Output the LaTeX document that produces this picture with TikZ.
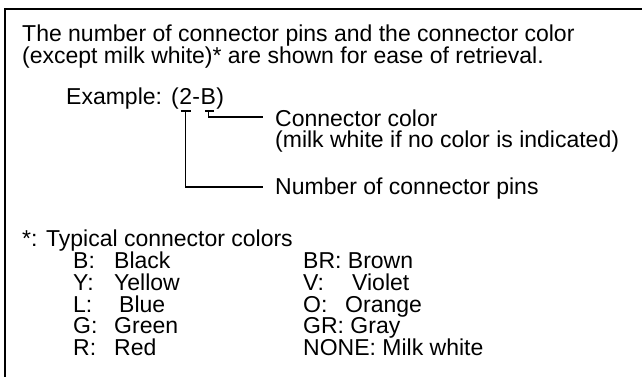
\documentclass[tikz,border=0pt]{standalone}
\usepackage{fontspec}
\setmainfont{Liberation Sans}
\usetikzlibrary{positioning}
\tikzset{
    txt/.style={anchor=base west, inner sep=0pt, text height=15pt, text depth=3pt,
                font=\fontsize{23}{22}\selectfont},
    frame/.style={line width=2pt},
    leader/.style={line width=1.3pt},
}

\begin{document}
\begin{tikzpicture}[x=1pt, y=-1pt]
    \useasboundingbox (0,0) rectangle (642,377);

    \draw[frame] (4.5,377) -- (4.5,9.5) -- (642,9.5);

    \node[txt] (intro1) at (22,42) {The number of connector pins and the connector color};
    \node[txt] (intro2) at (22,64) {(except milk white)* are shown for ease of retrieval.};

    \node[txt] (example) at (66,105) {Example:};
    \node[txt] (exopen) at (171,105) {(};
    \node[txt, right=0pt of exopen.base east, anchor=base west] (expins) {2};
    \node[txt, right=0pt of expins.base east, anchor=base west] (exdash) {-};
    \node[txt, right=0pt of exdash.base east, anchor=base west] (excolor) {B};
    \node[txt, right=0pt of excolor.base east, anchor=base west] (exclose) {)};

    \node[txt] (colortext) at (275,126) {Connector color};
    \node[txt] (colornote) at (275,147) {(milk white if no color is indicated)};
    \node[txt] (pinstext) at (275,194) {Number of connector pins};

    % ticks under the example
    \coordinate (tickpins) at (expins.base |- 0,111);
    \coordinate (tickcolor) at (excolor.base |- 0,111);
    \draw[leader] ([xshift=-5pt]tickpins) -- ([xshift=5pt]tickpins);
    \draw[leader] ([xshift=-3pt]tickcolor) -- ([xshift=6pt]tickcolor);
    \draw[leader] (tickpins) |- ([xshift=-12pt]pinstext.west |- 0,187);
    \draw[leader] (tickcolor) |- ([xshift=-12pt]colortext.west |- 0,117);

    \node[txt] (typical) at (22,246) {*: Typical connector colors};

    \node[txt] (kb) at (73,268) {B:};   \node[txt] (vb) at (114,268) {Black};
    \node[txt] (ky) at (73,290) {Y:};   \node[txt] (vy) at (114,290) {Yellow};
    \node[txt] (kl) at (73,312) {L:};   \node[txt] (vl) at (119,312) {Blue};
    \node[txt] (kg) at (73,333) {G:};   \node[txt] (vg) at (114,333) {Green};
    \node[txt] (kr) at (73,355) {R:};   \node[txt] (vr) at (114,355) {Red};

    \node[txt] (kbr) at (303,268) {BR: Brown};
    \node[txt] (kv) at (303,290) {V:};   \node[txt] (vv) at (352,290) {Violet};
    \node[txt] (ko) at (303,312) {O:};   \node[txt] (vo) at (345,312) {Orange};
    \node[txt] (kgr) at (303,333) {GR: Gray};
    \node[txt] (knone) at (303,355) {NONE: Milk white};

\end{tikzpicture}
\end{document}
